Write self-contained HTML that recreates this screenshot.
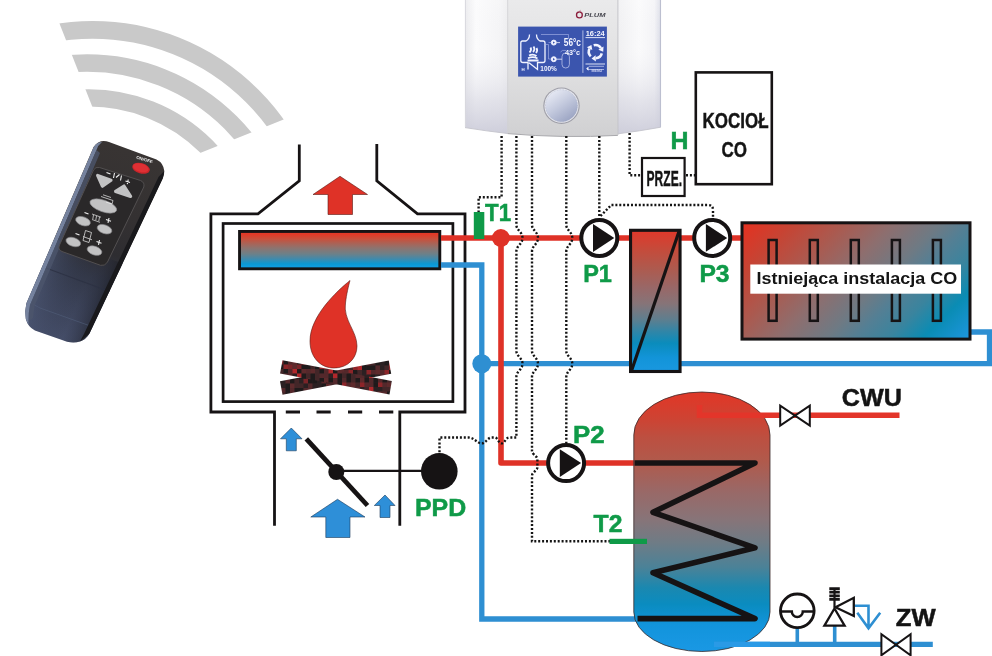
<!DOCTYPE html>
<html><head><meta charset="utf-8">
<style>
html,body{margin:0;padding:0;background:#fff;}
body{width:992px;height:656px;overflow:hidden;font-family:"Liberation Sans",sans-serif;}
svg{display:block;}
text{font-family:"Liberation Sans",sans-serif;font-weight:bold;}
svg{will-change:transform;}
.dot{fill:none;stroke:#141414;stroke-width:2.4;stroke-dasharray:2 1.9;}
.blk{fill:none;stroke:#161314;}
.red{fill:none;stroke:#df3227;stroke-width:5.6;}
.blue{fill:none;stroke:#2e8fd2;stroke-width:5.3;}
.g{fill:#0f9a48;}
</style></head><body>
<svg width="992" height="656" viewBox="0 0 992 656">
<defs>
<linearGradient id="gTank" x1="0" y1="0" x2="0" y2="1">
<stop offset="0" stop-color="#de3829"/><stop offset="0.03" stop-color="#dc3a2a"/><stop offset="0.11" stop-color="#cc4434"/><stop offset="0.173" stop-color="#bd4f40"/><stop offset="0.268" stop-color="#b05a4c"/>
<stop offset="0.378" stop-color="#9a6866"/><stop offset="0.488" stop-color="#887478"/><stop offset="0.583" stop-color="#6e7c86"/><stop offset="0.677" stop-color="#4a8298"/>
<stop offset="0.755" stop-color="#1a88b0"/><stop offset="0.819" stop-color="#0a8cc0"/><stop offset="0.898" stop-color="#1294dc"/><stop offset="1" stop-color="#1a98e4"/>
</linearGradient>
<linearGradient id="gPlate" x1="0" y1="0" x2="0" y2="1">
<stop offset="0" stop-color="#e0382a"/><stop offset="0.13" stop-color="#c64a3a"/><stop offset="0.27" stop-color="#ae5a4e"/><stop offset="0.41" stop-color="#986868"/>
<stop offset="0.52" stop-color="#867478"/><stop offset="0.63" stop-color="#5f7e8e"/><stop offset="0.72" stop-color="#2f86a8"/><stop offset="0.8" stop-color="#0a8cbc"/><stop offset="0.9" stop-color="#1294d8"/><stop offset="1" stop-color="#1a98e0"/>
</linearGradient>
<linearGradient id="gHx" x1="0" y1="0" x2="0" y2="1">
<stop offset="0" stop-color="#e23828"/><stop offset="0.08" stop-color="#e03a28"/><stop offset="0.2" stop-color="#c8503c"/><stop offset="0.33" stop-color="#a86458"/><stop offset="0.45" stop-color="#8c7470"/>
<stop offset="0.6" stop-color="#6e8088"/><stop offset="0.74" stop-color="#3f8aac"/><stop offset="0.87" stop-color="#0a98d4"/><stop offset="1" stop-color="#14a0e8"/>
</linearGradient>
<linearGradient id="gRad" gradientUnits="userSpaceOnUse" x1="742" y1="222.8" x2="914.2" y2="395">
<stop offset="0" stop-color="#e6301f"/><stop offset="0.15" stop-color="#c64434"/><stop offset="0.3" stop-color="#aa5a50"/><stop offset="0.44" stop-color="#8e6e6e"/>
<stop offset="0.58" stop-color="#6e7a84"/><stop offset="0.66" stop-color="#547f94"/><stop offset="0.76" stop-color="#3a849e"/><stop offset="0.86" stop-color="#0a8cb4"/><stop offset="1" stop-color="#1e96e0"/>
</linearGradient>
<linearGradient id="gRemote" x1="0" y1="0" x2="1" y2="0">
<stop offset="0" stop-color="#6d7d9c"/><stop offset="0.07" stop-color="#4a5670"/><stop offset="0.16" stop-color="#2c2f3a"/><stop offset="0.85" stop-color="#26262b"/><stop offset="1" stop-color="#1a1a1e"/>
</linearGradient>
<linearGradient id="gRemoteV" x1="0" y1="0" x2="0" y2="1">
<stop offset="0" stop-color="#2a2627" stop-opacity="0.9"/><stop offset="0.45" stop-color="#2b2b33" stop-opacity="0.6"/><stop offset="0.75" stop-color="#3a435c" stop-opacity="0.75"/><stop offset="1" stop-color="#46506e" stop-opacity="0.9"/>
</linearGradient>
<linearGradient id="gCtlL" x1="0" y1="0" x2="1" y2="0">
<stop offset="0" stop-color="#e9e9ec"/><stop offset="0.25" stop-color="#fbfbfc"/><stop offset="0.8" stop-color="#f4f4f6"/><stop offset="1" stop-color="#ececee"/>
</linearGradient>
<linearGradient id="gCtlR" x1="0" y1="0" x2="1" y2="0">
<stop offset="0" stop-color="#f0f0f2"/><stop offset="0.5" stop-color="#fafafb"/><stop offset="0.85" stop-color="#f3f3f6"/><stop offset="1" stop-color="#d9dbe6"/>
</linearGradient>
<linearGradient id="gKnob" x1="0.2" y1="0.1" x2="0.8" y2="0.95">
<stop offset="0" stop-color="#e4e7f2"/><stop offset="0.45" stop-color="#c4cade"/><stop offset="1" stop-color="#9aa3c2"/>
</linearGradient>
<linearGradient id="gCtlV" x1="0" y1="0" x2="0" y2="1">
<stop offset="0" stop-color="#ffffff" stop-opacity="0.2"/><stop offset="0.35" stop-color="#f0f0f4" stop-opacity="0"/><stop offset="0.75" stop-color="#d2d2de" stop-opacity="0.55"/><stop offset="1" stop-color="#cacad8" stop-opacity="0.9"/>
</linearGradient>
<linearGradient id="gCtlC" x1="0" y1="0" x2="0" y2="1">
<stop offset="0" stop-color="#eaeaeb"/><stop offset="0.5" stop-color="#e0e0e1"/><stop offset="1" stop-color="#d0d0d2"/>
</linearGradient>
<pattern id="pLog" width="36.0" height="36.0" patternUnits="userSpaceOnUse"><rect width="36.0" height="36.0" fill="#3a2426"/><rect x="0.0" y="0.0" width="4.8" height="4.8" fill="#54282b"/><rect x="0.0" y="4.5" width="4.8" height="4.8" fill="#7a2428"/><rect x="0.0" y="9.0" width="4.8" height="4.8" fill="#54282b"/><rect x="0.0" y="13.5" width="4.8" height="4.8" fill="#54282b"/><rect x="0.0" y="18.0" width="4.8" height="4.8" fill="#5e2a2c"/><rect x="0.0" y="22.5" width="4.8" height="4.8" fill="#8c2529"/><rect x="0.0" y="27.0" width="4.8" height="4.8" fill="#2b2022"/><rect x="0.0" y="31.5" width="4.8" height="4.8" fill="#2b2022"/><rect x="4.5" y="0.0" width="4.8" height="4.8" fill="#5e2a2c"/><rect x="4.5" y="4.5" width="4.8" height="4.8" fill="#5e2a2c"/><rect x="4.5" y="9.0" width="4.8" height="4.8" fill="#b0282c"/><rect x="4.5" y="13.5" width="4.8" height="4.8" fill="#2b2022"/><rect x="4.5" y="18.0" width="4.8" height="4.8" fill="#1f1a1b"/><rect x="4.5" y="22.5" width="4.8" height="4.8" fill="#54282b"/><rect x="4.5" y="27.0" width="4.8" height="4.8" fill="#432628"/><rect x="4.5" y="31.5" width="4.8" height="4.8" fill="#2b2022"/><rect x="9.0" y="0.0" width="4.8" height="4.8" fill="#1f1a1b"/><rect x="9.0" y="4.5" width="4.8" height="4.8" fill="#7a2428"/><rect x="9.0" y="9.0" width="4.8" height="4.8" fill="#1f1a1b"/><rect x="9.0" y="13.5" width="4.8" height="4.8" fill="#b0282c"/><rect x="9.0" y="18.0" width="4.8" height="4.8" fill="#54282b"/><rect x="9.0" y="22.5" width="4.8" height="4.8" fill="#54282b"/><rect x="9.0" y="27.0" width="4.8" height="4.8" fill="#b0282c"/><rect x="9.0" y="31.5" width="4.8" height="4.8" fill="#2b2022"/><rect x="13.5" y="0.0" width="4.8" height="4.8" fill="#b0282c"/><rect x="13.5" y="4.5" width="4.8" height="4.8" fill="#1f1a1b"/><rect x="13.5" y="9.0" width="4.8" height="4.8" fill="#5e2a2c"/><rect x="13.5" y="13.5" width="4.8" height="4.8" fill="#1f1a1b"/><rect x="13.5" y="18.0" width="4.8" height="4.8" fill="#1f1a1b"/><rect x="13.5" y="22.5" width="4.8" height="4.8" fill="#1f1a1b"/><rect x="13.5" y="27.0" width="4.8" height="4.8" fill="#2b2022"/><rect x="13.5" y="31.5" width="4.8" height="4.8" fill="#432628"/><rect x="18.0" y="0.0" width="4.8" height="4.8" fill="#b0282c"/><rect x="18.0" y="4.5" width="4.8" height="4.8" fill="#1f1a1b"/><rect x="18.0" y="9.0" width="4.8" height="4.8" fill="#54282b"/><rect x="18.0" y="13.5" width="4.8" height="4.8" fill="#432628"/><rect x="18.0" y="18.0" width="4.8" height="4.8" fill="#54282b"/><rect x="18.0" y="22.5" width="4.8" height="4.8" fill="#8c2529"/><rect x="18.0" y="27.0" width="4.8" height="4.8" fill="#2b2022"/><rect x="18.0" y="31.5" width="4.8" height="4.8" fill="#5e2a2c"/><rect x="22.5" y="0.0" width="4.8" height="4.8" fill="#432628"/><rect x="22.5" y="4.5" width="4.8" height="4.8" fill="#432628"/><rect x="22.5" y="9.0" width="4.8" height="4.8" fill="#5e2a2c"/><rect x="22.5" y="13.5" width="4.8" height="4.8" fill="#1f1a1b"/><rect x="22.5" y="18.0" width="4.8" height="4.8" fill="#1f1a1b"/><rect x="22.5" y="22.5" width="4.8" height="4.8" fill="#54282b"/><rect x="22.5" y="27.0" width="4.8" height="4.8" fill="#432628"/><rect x="22.5" y="31.5" width="4.8" height="4.8" fill="#54282b"/><rect x="27.0" y="0.0" width="4.8" height="4.8" fill="#7a2428"/><rect x="27.0" y="4.5" width="4.8" height="4.8" fill="#1f1a1b"/><rect x="27.0" y="9.0" width="4.8" height="4.8" fill="#432628"/><rect x="27.0" y="13.5" width="4.8" height="4.8" fill="#432628"/><rect x="27.0" y="18.0" width="4.8" height="4.8" fill="#432628"/><rect x="27.0" y="22.5" width="4.8" height="4.8" fill="#5e2a2c"/><rect x="27.0" y="27.0" width="4.8" height="4.8" fill="#432628"/><rect x="27.0" y="31.5" width="4.8" height="4.8" fill="#1f1a1b"/><rect x="31.5" y="0.0" width="4.8" height="4.8" fill="#1f1a1b"/><rect x="31.5" y="4.5" width="4.8" height="4.8" fill="#8c2529"/><rect x="31.5" y="9.0" width="4.8" height="4.8" fill="#1f1a1b"/><rect x="31.5" y="13.5" width="4.8" height="4.8" fill="#54282b"/><rect x="31.5" y="18.0" width="4.8" height="4.8" fill="#1f1a1b"/><rect x="31.5" y="22.5" width="4.8" height="4.8" fill="#432628"/><rect x="31.5" y="27.0" width="4.8" height="4.8" fill="#54282b"/><rect x="31.5" y="31.5" width="4.8" height="4.8" fill="#1f1a1b"/></pattern>
<pattern id="pLog2" width="36.0" height="36.0" patternUnits="userSpaceOnUse" patternTransform="translate(2,1)"><rect width="36.0" height="36.0" fill="#3a2426"/><rect x="0.0" y="0.0" width="4.8" height="4.8" fill="#1f1a1b"/><rect x="0.0" y="4.5" width="4.8" height="4.8" fill="#1f1a1b"/><rect x="0.0" y="9.0" width="4.8" height="4.8" fill="#2b2022"/><rect x="0.0" y="13.5" width="4.8" height="4.8" fill="#2b2022"/><rect x="0.0" y="18.0" width="4.8" height="4.8" fill="#1f1a1b"/><rect x="0.0" y="22.5" width="4.8" height="4.8" fill="#5e2a2c"/><rect x="0.0" y="27.0" width="4.8" height="4.8" fill="#54282b"/><rect x="0.0" y="31.5" width="4.8" height="4.8" fill="#54282b"/><rect x="4.5" y="0.0" width="4.8" height="4.8" fill="#54282b"/><rect x="4.5" y="4.5" width="4.8" height="4.8" fill="#1f1a1b"/><rect x="4.5" y="9.0" width="4.8" height="4.8" fill="#8c2529"/><rect x="4.5" y="13.5" width="4.8" height="4.8" fill="#2b2022"/><rect x="4.5" y="18.0" width="4.8" height="4.8" fill="#432628"/><rect x="4.5" y="22.5" width="4.8" height="4.8" fill="#432628"/><rect x="4.5" y="27.0" width="4.8" height="4.8" fill="#1f1a1b"/><rect x="4.5" y="31.5" width="4.8" height="4.8" fill="#432628"/><rect x="9.0" y="0.0" width="4.8" height="4.8" fill="#432628"/><rect x="9.0" y="4.5" width="4.8" height="4.8" fill="#1f1a1b"/><rect x="9.0" y="9.0" width="4.8" height="4.8" fill="#54282b"/><rect x="9.0" y="13.5" width="4.8" height="4.8" fill="#1f1a1b"/><rect x="9.0" y="18.0" width="4.8" height="4.8" fill="#2b2022"/><rect x="9.0" y="22.5" width="4.8" height="4.8" fill="#432628"/><rect x="9.0" y="27.0" width="4.8" height="4.8" fill="#1f1a1b"/><rect x="9.0" y="31.5" width="4.8" height="4.8" fill="#1f1a1b"/><rect x="13.5" y="0.0" width="4.8" height="4.8" fill="#1f1a1b"/><rect x="13.5" y="4.5" width="4.8" height="4.8" fill="#54282b"/><rect x="13.5" y="9.0" width="4.8" height="4.8" fill="#5e2a2c"/><rect x="13.5" y="13.5" width="4.8" height="4.8" fill="#2b2022"/><rect x="13.5" y="18.0" width="4.8" height="4.8" fill="#7a2428"/><rect x="13.5" y="22.5" width="4.8" height="4.8" fill="#2b2022"/><rect x="13.5" y="27.0" width="4.8" height="4.8" fill="#54282b"/><rect x="13.5" y="31.5" width="4.8" height="4.8" fill="#5e2a2c"/><rect x="18.0" y="0.0" width="4.8" height="4.8" fill="#2b2022"/><rect x="18.0" y="4.5" width="4.8" height="4.8" fill="#2b2022"/><rect x="18.0" y="9.0" width="4.8" height="4.8" fill="#54282b"/><rect x="18.0" y="13.5" width="4.8" height="4.8" fill="#54282b"/><rect x="18.0" y="18.0" width="4.8" height="4.8" fill="#1f1a1b"/><rect x="18.0" y="22.5" width="4.8" height="4.8" fill="#54282b"/><rect x="18.0" y="27.0" width="4.8" height="4.8" fill="#54282b"/><rect x="18.0" y="31.5" width="4.8" height="4.8" fill="#2b2022"/><rect x="22.5" y="0.0" width="4.8" height="4.8" fill="#1f1a1b"/><rect x="22.5" y="4.5" width="4.8" height="4.8" fill="#432628"/><rect x="22.5" y="9.0" width="4.8" height="4.8" fill="#8c2529"/><rect x="22.5" y="13.5" width="4.8" height="4.8" fill="#432628"/><rect x="22.5" y="18.0" width="4.8" height="4.8" fill="#1f1a1b"/><rect x="22.5" y="22.5" width="4.8" height="4.8" fill="#2b2022"/><rect x="22.5" y="27.0" width="4.8" height="4.8" fill="#2b2022"/><rect x="22.5" y="31.5" width="4.8" height="4.8" fill="#54282b"/><rect x="27.0" y="0.0" width="4.8" height="4.8" fill="#b0282c"/><rect x="27.0" y="4.5" width="4.8" height="4.8" fill="#8c2529"/><rect x="27.0" y="9.0" width="4.8" height="4.8" fill="#1f1a1b"/><rect x="27.0" y="13.5" width="4.8" height="4.8" fill="#1f1a1b"/><rect x="27.0" y="18.0" width="4.8" height="4.8" fill="#2b2022"/><rect x="27.0" y="22.5" width="4.8" height="4.8" fill="#2b2022"/><rect x="27.0" y="27.0" width="4.8" height="4.8" fill="#54282b"/><rect x="27.0" y="31.5" width="4.8" height="4.8" fill="#432628"/><rect x="31.5" y="0.0" width="4.8" height="4.8" fill="#1f1a1b"/><rect x="31.5" y="4.5" width="4.8" height="4.8" fill="#b0282c"/><rect x="31.5" y="9.0" width="4.8" height="4.8" fill="#432628"/><rect x="31.5" y="13.5" width="4.8" height="4.8" fill="#432628"/><rect x="31.5" y="18.0" width="4.8" height="4.8" fill="#54282b"/><rect x="31.5" y="22.5" width="4.8" height="4.8" fill="#1f1a1b"/><rect x="31.5" y="27.0" width="4.8" height="4.8" fill="#1f1a1b"/><rect x="31.5" y="31.5" width="4.8" height="4.8" fill="#1f1a1b"/></pattern>
</defs>
<clipPath id="wedge"><path d="M122.8,184 L-24,-188 L494,-188 L494,35.2 Z"/></clipPath>
<g clip-path="url(#wedge)" fill="none" stroke="#c9c9c9">
<circle cx="92.6" cy="255.7" r="225.75" stroke-width="17.7"/>
<circle cx="87.1" cy="266.1" r="203" stroke-width="17.5"/>
<circle cx="88.8" cy="264.4" r="166.5" stroke-width="17.3"/>
</g>
<!-- remote -->
<!-- remote body -->
<g>
<linearGradient id="gRbA" gradientUnits="userSpaceOnUse" x1="128" y1="152" x2="52" y2="338">
<stop offset="0" stop-color="#383433"/><stop offset="0.3" stop-color="#343132"/><stop offset="0.5" stop-color="#2e2d31"/><stop offset="0.64" stop-color="#323747"/><stop offset="0.8" stop-color="#3b4258"/><stop offset="1" stop-color="#454e69"/>
</linearGradient>
<linearGradient id="gRbX" gradientUnits="userSpaceOnUse" x1="40" y1="262" x2="118" y2="295">
<stop offset="0" stop-color="#5a6787" stop-opacity="0.55"/><stop offset="0.25" stop-color="#4a5572" stop-opacity="0.25"/><stop offset="0.6" stop-color="#2e3345" stop-opacity="0"/><stop offset="0.85" stop-color="#1e2029" stop-opacity="0.55"/><stop offset="1" stop-color="#17171a" stop-opacity="0.9"/>
</linearGradient>
<path id="rb" d="M92.5,149.5 Q95,143 101,141.3 Q105,140.5 109,142 L156.5,159.5 Q163.5,163 164.3,171 Q164.3,175 162.8,178.5 L89.5,333.5 Q86,339.5 80,341.5 Q74,343.5 67,341.8 L35,330.5 Q28,327 25.8,319 Q24.5,311 26.5,303 Z" fill="url(#gRbA)"/>
<clipPath id="rbc"><use href="#rb"/></clipPath>
<g clip-path="url(#rbc)">
<path d="M58,240 L135,268 L85,350 L15,340 L15,300 Z" fill="url(#gRbX)"/>
<!-- subtle facet lines -->
<path d="M46,268 L116,294" stroke="#2c3142" stroke-width="1.2" fill="none" opacity="0.8"/>
<path d="M31,303 L40,308 L96,328" stroke="#525d7a" stroke-width="1" fill="none" opacity="0.6"/>
<!-- left light edge -->
<path d="M92.5,149.5 L26.5,303 Q24.5,311 25.8,319 L28.5,325 Q28,314 30,305 L96.5,150 Q98,145 102,142 Q95,142 92.5,149.5 Z" fill="#75829e"/>
<path d="M96.5,150 L30,305 Q28.5,313 29.5,321 L33,318 L34.5,306 L100,153 Z" fill="#4c556c" opacity="0.8"/>
<!-- right dark edge -->
<path d="M164.3,171 L162.8,178.5 L89.5,333.5 L80,341.5 L84,334 L158.5,177 Z" fill="#19191c"/>
</g>
<!-- button panel -->
<path d="M93.5,170 Q95.5,166.5 99.5,167.5 L140.5,180.5 Q145,182.5 143.8,187 L107.5,262 Q105,266.5 100.5,265.3 L62,251.5 Q57.5,249.5 59.5,245 Z" fill="#2a2829" stroke="#524f50" stroke-width="1"/>
<!-- red button -->
<ellipse cx="141" cy="168.3" rx="9" ry="5.2" transform="rotate(15 141 168.3)" fill="#c9252a"/>
<ellipse cx="140.8" cy="167.8" rx="8" ry="4.2" transform="rotate(15 140.8 167.8)" fill="#df3034"/>
<!-- grey buttons -->
<g fill="#c2c2c3" stroke="#8c8c90" stroke-width="0.6">
<path d="M97.6,175.4 L111,180.2 L102.4,186.2 Z" stroke-linejoin="round" stroke="#c2c2c3" stroke-width="3.2"/>
<path d="M115.6,191.4 L124,186 L130.6,196.4 Z" stroke-linejoin="round" stroke="#c2c2c3" stroke-width="3.2"/>
<ellipse cx="103.3" cy="206" rx="14" ry="5.8" transform="rotate(19 103.3 206)"/>
<ellipse cx="83" cy="221.2" rx="7.6" ry="4.3" transform="rotate(19 83 221.2)"/>
<ellipse cx="104.5" cy="229.2" rx="7.6" ry="4.3" transform="rotate(19 104.5 229.2)"/>
<ellipse cx="73.3" cy="242" rx="7.6" ry="4.3" transform="rotate(19 73.3 242)"/>
<ellipse cx="94.5" cy="250.6" rx="7.6" ry="4.3" transform="rotate(19 94.5 250.6)"/>
</g>
<!-- white glyphs -->
<g stroke="#f0f0f0" stroke-width="1.1" fill="none">
<path d="M106.5,172.5 L110.5,174 M114.5,173 L113.5,178 M116,177.5 L119.5,174.5 M121.5,175.5 L120.5,180.5 M125.5,181 L130,182.5 M128.2,179.5 L127.3,184.2"/>
<path d="M101,196.5 L113,200.5 L112,204 L106,202 M103,194.8 L111,197.5" stroke-width="0.7"/>
<path d="M84.5,212.5 L88.5,214 M106,219.5 L111,221.2 M109,218 L108,222.8"/>
<path d="M92,214 L101,217.2 M93.5,215 L92.8,219 M96.5,216 L95.8,220 M99.5,217 L98.8,221 M92,219.5 L100,222.3" stroke-width="0.7"/>
<path d="M75.5,233.5 L79.5,235 M96.5,241.5 L101.5,243.2 M99.5,240 L98.5,244.8"/>
<path d="M85.5,230.5 L91.5,232.5 L89,242.5 L83,240.5 Z M83,236.5 L92,239.8" stroke-width="0.7"/>
</g>
<text transform="translate(136,158.5) rotate(17)" font-size="4.2" fill="#f0f0f0" textLength="17" lengthAdjust="spacingAndGlyphs">ON/OFF</text>
</g>

<!-- controller -->
<!-- controller body -->
<path d="M465,0 H508 V133.5 Q486,131 465,127.6 Z" fill="url(#gCtlL)"/>
<path d="M618,0 H660.8 V127.2 Q640,131 618,133.8 Z" fill="url(#gCtlR)"/>
<path d="M465,0 H508 V133.5 Q486,131 465,127.6 Z" fill="url(#gCtlV)"/>
<path d="M618,0 H660.8 V127.2 Q640,131 618,133.8 Z" fill="url(#gCtlV)"/>
<path d="M507.5,0 H617.8 V135.4 Q563,138.4 507.5,133.6 Z" fill="url(#gCtlC)"/>
<path d="M507.5,133.6 Q563,138.4 617.8,135.4" fill="none" stroke="#a9a9ad" stroke-width="1"/>
<path d="M465,127.6 Q486,131 507.5,133.5 M618,133.8 Q640,131 660.8,127.2" fill="none" stroke="#c4c4cc" stroke-width="0.9"/>
<path d="M507.7,0 V133" stroke="#cfcfd3" stroke-width="0.8" fill="none"/>
<path d="M617.9,0 V135" stroke="#bdbdc3" stroke-width="0.9" fill="none"/>
<path d="M660.5,0 V127" stroke="#bcbfd0" stroke-width="1.1" fill="none"/>
<path d="M465.4,0 V127" stroke="#d8d8de" stroke-width="1" fill="none"/>
<!-- screen -->
<rect x="518.1" y="26.6" width="88.8" height="50" fill="#3b55ae"/>
<g fill="none" stroke="#f2f4ff" stroke-width="0.9">
<path d="M582.9,30.4 V72.9" stroke-width="0.8" stroke="#c9d0f0"/>
<path d="M585.5,37.6 H605 M585.5,64 H605" stroke-width="0.9"/>
<!-- fireplace icon -->
<path d="M529.5,34.5 Q529.5,39 526,41 H522.5 Q520.8,41 520.8,43 V60.5 Q520.8,62.5 523,62.5 H528 V69.5 M536.5,34.5 Q536.5,39 540,41 H543 Q545,41 545,43 V60.5 Q545,62.5 543,62.5 H537.5 V69.5 L529,62.8" stroke-width="1.3"/>
<path d="M527.5,60.5 H538.5 M528,58.2 Q533,56 537.5,58.5 M529,55.5 Q533,53.5 536.5,56 M529.5,52.5 Q532,50 530.5,47.5 M533,52 Q535.5,49.5 533.5,46.5 M536,53 Q538,50.5 536.5,48" stroke-width="1.8"/>
<!-- pipes in icon -->
<path d="M541,34.5 H568.5 V39 M545.5,44.5 H548.5 V59 H551 M548.5,42.5 H551" stroke-width="0.6" stroke="#aeb8ec"/>
<circle cx="553.8" cy="42.6" r="2.5" fill="#eef0ff"/><circle cx="553.8" cy="59.2" r="2.5" fill="#eef0ff"/><path d="M553,41.4 V43.8 L555,42.6 Z M553,58 V60.4 L555,59.2 Z" fill="#3b55ae" stroke="none"/>
<path d="M556.6,42.6 H560 M556.6,59.2 H562" stroke-width="0.8"/>
<rect x="562" y="53" width="7.4" height="15" rx="3.6" stroke-width="0.7" stroke="#c9d0f0"/>
<path d="M560.5,52 Q562,49.5 566,50.5" stroke-width="0.6" stroke="#aeb8ec"/>
<!-- recycle icon -->
<path d="M593.69,45.32 A6.6,6.6 0 0 1 600.94,48.11 M601.78,53.41 A6.6,6.6 0 0 1 595.75,58.29 M590.73,56.37 A6.6,6.6 0 0 1 589.52,48.70" stroke-width="2.6"/>
<path d="M603.22,51.63 L603.54,46.42 L598.34,49.79 Z M591.55,58.51 L595.91,61.39 L595.58,55.20 Z M591.43,44.96 L586.76,47.30 L592.28,50.11 Z" fill="#f2f4ff" stroke="none"/>
<path d="M587,69.5 H604 M589,66.3 H604" stroke-width="0.7" stroke="#d0d6f4"/>
<path d="M586.2,68.5 L588.5,66.5 V70.8 Z" fill="#f2f4ff" stroke="none"/>
</g>
<g fill="#f4f6ff" font-weight="bold">
<text x="585.7" y="36.4" font-size="6.6" textLength="19" lengthAdjust="spacingAndGlyphs">16:24</text>
<text x="563.8" y="45.8" font-size="10" textLength="17.2" lengthAdjust="spacingAndGlyphs">56°c</text>
<text x="565" y="54.8" font-size="7.8" textLength="15" lengthAdjust="spacingAndGlyphs">43°c</text>
<text x="540.3" y="71" font-size="6.6" textLength="16.6" lengthAdjust="spacingAndGlyphs">100%</text>
<text x="521.5" y="70.6" font-size="4.4">H</text>
<text x="591.5" y="71.6" font-size="3.6" fill="#d0d6f4">MENU</text>
</g>
<!-- knob -->
<circle cx="561.5" cy="105.7" r="18.2" fill="#9e9ea8"/>
<circle cx="561.5" cy="105.7" r="17.1" fill="#e9eaf0"/>
<circle cx="561.5" cy="105.7" r="16" fill="url(#gKnob)"/>
<circle cx="561.5" cy="105.7" r="16" fill="none" stroke="#8f98b8" stroke-width="0.6" stroke-dasharray="0.7 0.9" opacity="0.7"/>
<!-- logo -->
<circle cx="579.4" cy="14.9" r="2.9" fill="none" stroke="#8c1d3c" stroke-width="1.3"/>
<path d="M579.4,12.8 Q578.6,11.2 580.4,9.8 Q580.2,11.6 581.2,12.4" fill="#8c1d3c" stroke="#e7e7e8" stroke-width="0.4"/>
<text x="584.2" y="16.6" font-size="5" font-style="italic" fill="#4a4a52" textLength="21.4" lengthAdjust="spacingAndGlyphs">PLUM</text>

<!-- boxes -->
<rect x="695.8" y="72.4" width="76" height="111.8" fill="#fff" stroke="#161314" stroke-width="2.6"/>
<rect x="642" y="158" width="42.6" height="38" fill="#fff" stroke="#161314" stroke-width="2.2"/>
<g fill="#141414" stroke="#141414" stroke-width="0.45" font-size="21.6">
<text x="702.6" y="128" textLength="66" lengthAdjust="spacingAndGlyphs">KOCIOŁ</text>
<text x="721.6" y="156.8" textLength="25.5" lengthAdjust="spacingAndGlyphs">CO</text>
<text x="646.6" y="185.5" textLength="35.4" lengthAdjust="spacingAndGlyphs">PRZE.</text>
</g>

<!-- fireplace -->
<g class="blk" stroke-width="2.8" stroke-linejoin="miter">
<!-- outer casing with chimney -->
<path d="M299.3,144.5 V180.8 L258,213.8 H210.9 V412 H274.5 V525.8"/>
<path d="M376.8,144 V180.8 L417.5,213.8 H465 V412 H399.8 V525.8"/>
<!-- inner box -->
<rect x="223.1" y="223.5" width="229.8" height="178.1" stroke-width="2.7"/>
<!-- dashes -->
<path d="M285.8,412 H300 M316.5,412 H330.7 M348,412 H362.2 M379,412 H393.3" stroke-width="2.8"/>
</g>
<!-- heat exchanger -->
<rect x="239.55" y="231.45" width="200.25" height="37.35" fill="url(#gHx)" stroke="#161314" stroke-width="2.9"/>
<!-- red arrow up -->
<path d="M340,176.3 L367.5,194.5 H352.5 V214.5 H328 V194.5 H313 Z" fill="#df3227" stroke="#5a1a14" stroke-width="0.6"/>
<!-- flame -->
<path d="M350,280.5 C337,291 310,316 310,341 C310,358 321,368 334,368 C348,368 357,358 357,346 C357,331 343,320 345.5,303 C346.5,294 348.5,286 350,280.5 Z" fill="#df3227" stroke="#5a1a14" stroke-width="0.6"/>
<!-- logs -->
<g>
<path d="M280,381.2 L388.8,360.4 L391.2,373.8 L282.5,394.8 Z" fill="url(#pLog2)"/>
<path d="M282.5,360.2 L391.8,381 L389.5,394.4 L280,373.6 Z" fill="url(#pLog)"/>
</g>
<!-- damper -->
<line x1="306.3" y1="438.8" x2="367.5" y2="505.5" stroke="#161314" stroke-width="4.8"/>
<circle cx="336.3" cy="472" r="8" fill="#161314"/>
<line x1="336" y1="470.8" x2="425" y2="470.8" stroke="#161314" stroke-width="2.2"/>
<circle cx="439.3" cy="471.3" r="18.3" fill="#161314"/>
<!-- blue arrows -->
<g fill="#2e8fd8" stroke="#1c3a5a" stroke-width="0.6">
<path d="M291.3,428 L302,438.8 H296.3 V450.8 H286.3 V438.8 H280.5 Z"/>
<path d="M385,495 L395,505.5 H390 V517.5 H380 V505.5 H374.3 Z"/>
<path d="M337.5,499.3 L365,517 H350 V537.5 H325.8 V517 H310.8 Z"/>
</g>

<!-- pipes -->
<!-- blue pipes -->
<path class="blue" d="M441,265 H481.8 V619 H638"/>
<path class="blue" d="M481.8,363.7 H630 M681,363.7 H989.5 V332 H971" stroke-linejoin="miter"/>
<circle cx="481.8" cy="363.7" r="9.5" fill="#2e8fd2"/>
<!-- red pipes -->
<path class="red" d="M441,238 H581 M618,238 H630 M681,238 H694 M731,238 H741"/>
<path class="red" d="M501,238 V463 H548 M585,463 H634" stroke-linejoin="round"/>
<circle cx="500.9" cy="238" r="9" fill="#df3227"/>
<!-- T1 sensor -->
<rect x="473.8" y="212" width="10.5" height="27" fill="#0f9a48"/>
<!-- plate heat exchanger -->
<rect x="630.55" y="230.3" width="49.5" height="141.2" fill="url(#gPlate)" stroke="#161314" stroke-width="3.1"/>
<line x1="679" y1="231.5" x2="631.6" y2="370.5" stroke="#161314" stroke-width="3.2"/>
<!-- pumps -->
<g id="pumpdef">
<circle cx="599.3" cy="238" r="18" fill="#fff" stroke="#161314" stroke-width="4"/>
<path d="M593,224.1 V251.9 L614.3,238 Z" fill="#161314"/>
</g>
<use href="#pumpdef" x="112.9" y="-0.1"/>
<use href="#pumpdef" x="-33.2" y="225.1"/>
<!-- radiator -->
<rect x="742" y="222.8" width="228" height="116.3" fill="url(#gRad)" stroke="#161314" stroke-width="3"/>
<g class="blk" stroke-width="2.5">
<rect x="768.6" y="240" width="8" height="80.8"/>
<rect x="809.8" y="240" width="8" height="80.8"/>
<rect x="850.8" y="240" width="8" height="80.8"/>
<rect x="891.9" y="240" width="8" height="80.8"/>
<rect x="932.9" y="240" width="8" height="80.8"/>
</g>
<rect x="750.3" y="264.5" width="210.7" height="29.2" fill="#fff"/>
<text transform="translate(756.4,283.8) scale(1.034,1)" font-size="17.4" fill="#141414">Istniejąca instalacja CO</text>

<!-- dotted -->
<g class="dot">
<!-- T1 -->
<path d="M501.6,136 V197.2 H478.6 V212"/>
<!-- line A x=516.3 : to PPD -->
<path d="M516.4,136 V225 C516.4,230 522.5,232 522.5,238 C522.5,244 516.4,246 516.4,251 V351 C516.4,356 522.5,358 522.5,363.7 C522.5,369.5 516.4,371.5 516.4,376.5 V437.5 H509.3 C505.5,437.5 504.8,443.4 501.6,443.4 C498.4,443.4 498,437.5 494.6,437.5 H491.8 C487.5,437.5 485.8,443.4 481.7,443.4 C477.3,443.4 474,437.5 468.5,437.5 H439.5 V453"/>
<!-- line B x=532 : to T2 -->
<path d="M532,136 V225 C532,230 538,232 538,238 C538,244 532,246 532,251 V351 C532,356 538,358 538,363.7 C538,369.5 532,371.5 532,376.5 V451 Q532,452.5 534,454.5 L536.6,457.2 Q537.4,458 537.4,459.5 V467 Q537.4,468.5 536.6,469.4 L533,473.2 Q532,474.3 532,476 V541.3 H610"/>
<!-- line C x=566.3 : to P2 -->
<path d="M566.3,136 V225 C566.3,230 572.3,232 572.3,238 C572.3,244 566.3,246 566.3,251 V351 C566.3,356 572.3,358 572.3,363.7 C572.3,369.5 566.3,371.5 566.3,376.5 V443"/>
<!-- P1 -->
<path d="M599.3,136 V218"/>
<path d="M600.5,216 L611.3,205 H708 Q713,205 713,210 V218"/>
<!-- PRZE -->
<path d="M629.6,133 V175.2 H641 M686,175.2 H695"/>
</g>

<!-- tank -->
<!-- tank -->
<path d="M633.8,435 A68.1,43 0 0 1 770,435 V612 A68.1,39.5 0 0 1 633.8,612 Z" fill="url(#gTank)" stroke="#3a2a2a" stroke-width="0.8"/>
<!-- CWU pipe -->
<path d="M699.5,405 V415.2 H899.5" fill="none" stroke="#e3352a" stroke-width="5.5" stroke-linejoin="miter"/>
<!-- ZW pipe -->
<path d="M714,644.4 H932.8" fill="none" stroke="#2e8fd2" stroke-width="5.2"/>
<path d="M714,644.4 H770" fill="none" stroke="#2a9ae6" stroke-width="5.2"/>
<!-- coil -->
<path d="M634.5,463 H755 L653,512.3 L755,547.8 L653,572.8 L755,618.6 H637.5" fill="none" stroke="#161314" stroke-width="5.6" stroke-linejoin="round"/>
<!-- T2 bar -->
<rect x="609.5" y="538.8" width="37.5" height="5.2" fill="#0f9a48"/>
<!-- valves -->
<path d="M780.2,405.6 V425.6 L809.8,405.6 V425.6 Z" fill="#fff" stroke="#161314" stroke-width="2" stroke-linejoin="miter"/>
<path d="M881.4,634.2 V655.2 L910.6,634.2 V655.2 Z" fill="#fff" stroke="#161314" stroke-width="2" stroke-linejoin="miter"/>
<!-- expansion vessel -->
<path d="M797.3,628 V644 M834.7,626 V644" stroke="#2e8fd2" stroke-width="3.6" fill="none"/>
<circle cx="797.3" cy="610.8" r="16.8" fill="#fff" stroke="#161314" stroke-width="2.9"/>
<path d="M780.5,611.5 H791.8 A5.5,5.5 0 0 0 802.8,611.5 H814" fill="none" stroke="#161314" stroke-width="2.5"/>
<!-- safety valve -->
<path d="M834.5,608.5 L844.6,625.6 H824.4 Z" fill="#fff" stroke="#161314" stroke-width="2.3" stroke-linejoin="miter"/>
<path d="M835.5,607.3 L853.8,597.8 V616 Z" fill="#fff" stroke="#161314" stroke-width="2.3" stroke-linejoin="miter"/>
<path d="M834.5,588 V607" stroke="#161314" stroke-width="2.2" fill="none"/>
<path d="M829.3,588.6 H839.8 M829.3,592.2 H839.8 M829.3,595.8 H839.8 M829.3,599.4 H839.8" stroke="#161314" stroke-width="2.7" fill="none"/>
<!-- drain arrow -->
<path d="M855,605.8 H868.5 V627.5 M857.3,612.8 L868.5,628.3 L880.2,612.8" fill="none" stroke="#2e8fd2" stroke-width="2.6" stroke-linejoin="miter"/>

<!-- labels -->
<g class="g" font-size="23.5" stroke="#0f9a48" stroke-width="0.5">
<text transform="translate(670.6,149) scale(1.06,1)">H</text>
<text transform="translate(485,220.8) scale(0.95,1)">T1</text>
<text transform="translate(583.2,282) scale(1.0,1)">P1</text>
<text transform="translate(699.4,282) scale(1.05,1)">P3</text>
<text transform="translate(573,442.5) scale(1.1,1)">P2</text>
<text transform="translate(593.6,531.8) scale(1.05,1)">T2</text>
<text transform="translate(415,515.8) scale(1.06,1)">PPD</text>
</g>
<g fill="#141414" font-size="23.5" stroke="#141414" stroke-width="0.5">
<text transform="translate(841.8,405.5) scale(1.07,1)">CWU</text>
<text transform="translate(895.8,625.8) scale(1.09,1)">ZW</text>
</g>

</svg>
</body></html>
